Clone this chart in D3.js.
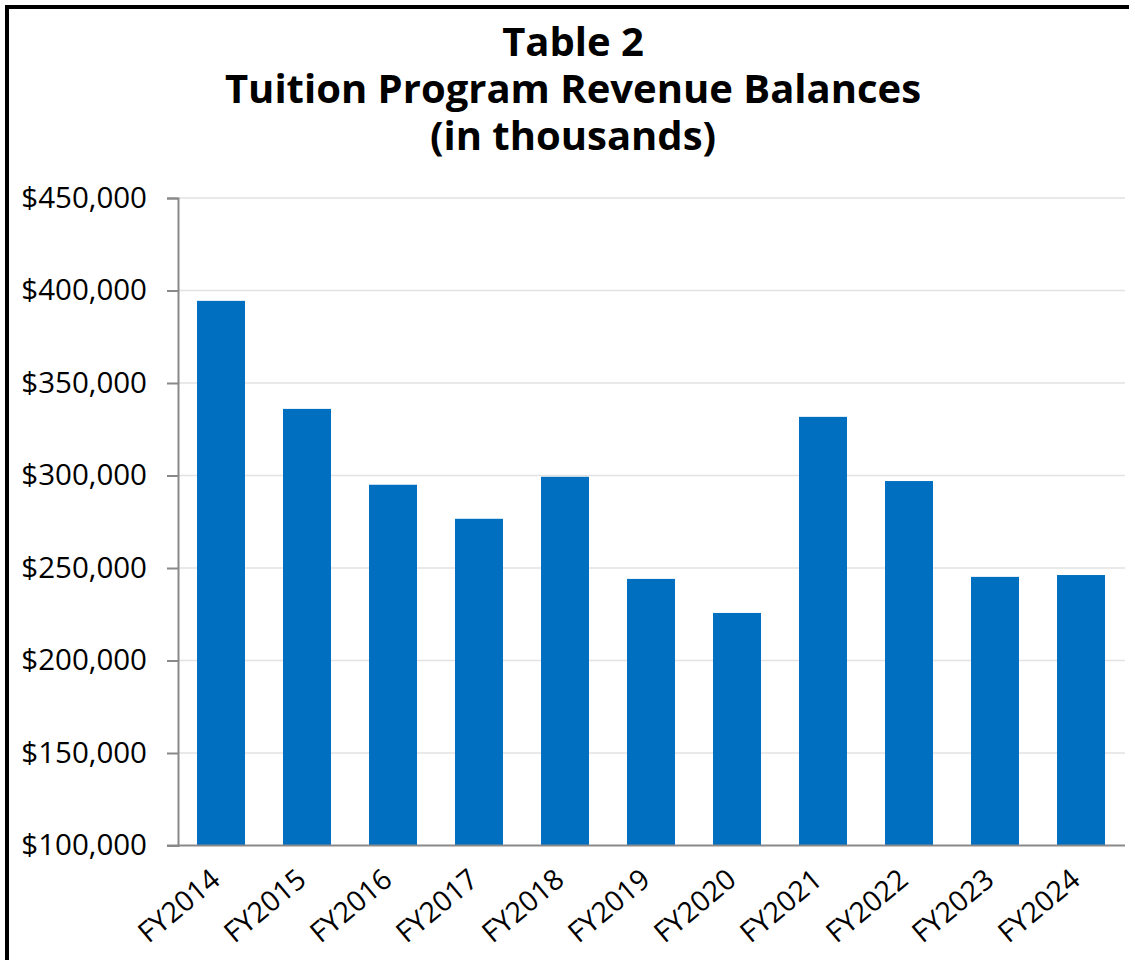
<!DOCTYPE html>
<html>
<head>
<meta charset="utf-8">
<script src="https://cdn.jsdelivr.net/npm/d3@7"></script>
<style>
  html, body { margin: 0; padding: 0; background: #fff; }
  svg { display: block; }
</style>
</head>
<body>
<svg id="chart" width="1135" height="960"></svg>
<script>
// Fiscal years and year-end balances (in thousands of dollars)
const years = ["FY2014", "FY2015", "FY2016", "FY2017", "FY2018", "FY2019",
               "FY2020", "FY2021", "FY2022", "FY2023", "FY2024"];
const balances = [394400, 336000, 295000, 276600, 299300, 244100,
                  225700, 331700, 297000, 245200, 246200];
const yTicks = [100000, 150000, 200000, 250000, 300000, 350000, 400000, 450000];
const titleLines = ["Table 2", "Tuition Program Revenue Balances", "(in thousands)"];

const svg = d3.select("#chart");
const W = 1135, H = 960;
const plot = { left: 178, right: 1124, top: 198, bottom: 845.5 };
const font = "'Open Sans', 'Noto Sans', sans-serif";

// Frame around the figure (top and left edges)
svg.append("line").attr("x1", 5).attr("x2", 1129).attr("y1", 7).attr("y2", 7)
  .attr("stroke", "#000").attr("stroke-width", 4);
svg.append("line").attr("x1", 7).attr("x2", 7).attr("y1", 5).attr("y2", H)
  .attr("stroke", "#000").attr("stroke-width", 4);

// Title
svg.append("g").selectAll("text").data(titleLines).join("text")
  .attr("x", 573)
  .attr("y", (d, i) => 56 + i * 47)
  .attr("text-anchor", "middle")
  .attr("font-family", font)
  .attr("font-weight", 700)
  .attr("font-size", 40)
  .attr("fill", "#000")
  .text(d => d);

const x = d3.scaleBand().domain(years).range([plot.left, plot.right])
  .paddingInner(0.442).paddingOuter(0.221);
const y = d3.scaleLinear().domain([100000, 450000]).range([plot.bottom, plot.top]);

// Horizontal gridlines
svg.append("g").selectAll("line").data(yTicks.filter(t => t > 100000)).join("line")
  .attr("x1", plot.left).attr("x2", 1125)
  .attr("y1", d => y(d)).attr("y2", d => y(d))
  .attr("stroke", "#e2e2e2").attr("stroke-width", 1.5);

// Bars
svg.append("g").selectAll("rect").data(years).join("rect")
  .attr("x", d => x(d))
  .attr("width", x.bandwidth())
  .attr("y", (d, i) => y(balances[i]))
  .attr("height", (d, i) => y(100000) - y(balances[i]))
  .attr("fill", "#006fc0");

// Y axis
const fmt = d3.format(",");
const yAxis = d3.axisLeft(y).tickValues(yTicks).tickSize(11).tickPadding(20)
  .tickFormat(d => "$" + fmt(d));
const gy = svg.append("g").attr("transform", `translate(${plot.left},0)`).call(yAxis);
gy.select(".domain").attr("stroke", "#898989").attr("stroke-width", 2);
gy.selectAll(".tick line").attr("stroke", "#898989").attr("stroke-width", 2);
gy.selectAll(".tick text")
  .attr("font-family", font)
  .attr("font-size", 29.5).attr("fill", "#000");

// X axis baseline
svg.append("line").attr("x1", 167).attr("x2", 1125)
  .attr("y1", plot.bottom).attr("y2", plot.bottom)
  .attr("stroke", "#898989").attr("stroke-width", 2);

// Rotated category labels
svg.append("g").selectAll("text").data(years).join("text")
  .attr("transform", d => `translate(${x(d) + x.bandwidth() / 2 + 1},${plot.bottom + 37}) rotate(-40)`)
  .attr("text-anchor", "end")
  .attr("font-family", font)
  .attr("font-size", 28.5)
  .attr("fill", "#000")
  .text(d => d);
</script>
</body>
</html>
